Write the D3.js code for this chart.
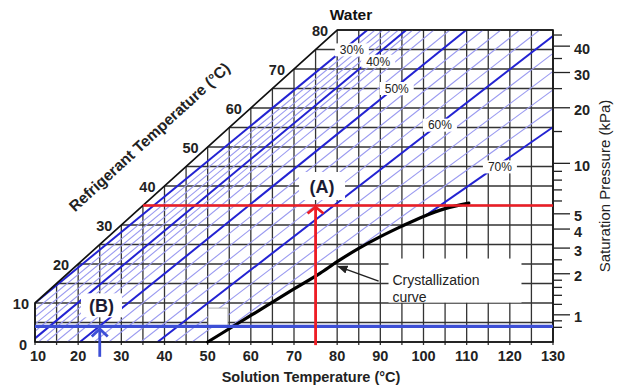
<!DOCTYPE html>
<html>
<head>
<meta charset="utf-8">
<script src="https://cdn.jsdelivr.net/npm/d3@7"></script>
<style>
  html, body { margin: 0; padding: 0; background: #fff; }
  svg { display: block; font-family: "Liberation Sans", Arial, sans-serif; }
</style>
</head>
<body>
<div id="chart"></div>
<script>
// axis ticks
const solTicks = [10, 20, 30, 40, 50, 60, 70, 80, 90, 100, 110, 120, 130];
const refTicks = [0, 10, 20, 30, 40, 50, 60, 70, 80];

// LiBr concentration lines (%), solution temp where each line meets refrigerant 0 °C and 80 °C
const concs       = [30, 32, 34, 36, 38, 40, 42, 44, 46, 48, 50, 52, 54, 56, 58, 60, 62, 64, 66, 68, 70];
const tsolAtRef0  = [-1, 1, 3, 5, 7, 9, 10.8, 12.6, 14.8, 17.5, 20.4, 23.7, 27.1, 30.8, 34.5, 38.4, 42.4, 46.4, 50.4, 54.4, 58.3];
const tsolAtRef80 = [87, 88.8, 90.6, 92.4, 94.2, 96, 97.5, 99.5, 102.4, 106.1, 109.9, 113.8, 117.9, 122.3, 126.9, 131.8, 137.1, 142.8, 148.9, 155.4, 162.4];

// concentration labels
const concLabels = ['30%', '40%', '50%', '60%', '70%'];
const labelTsol  = [83.4, 89.5, 93.8, 103.8, 117.7];
const labelTref  = [74.9, 72.0, 65.0, 55.6, 44.9];

// crystallization curve
const crystTsol = [50, 60, 70, 76, 80, 85, 90, 95, 100, 105, 110.5];
const crystTref = [0, 6.8, 13.6, 17.6, 20.6, 24.0, 27.0, 29.7, 32.2, 34.2, 35.6];

// saturation pressure axis (kPa) and matching water saturation temperature (°C)
const pressMajor     = [1, 2, 3, 4, 5, 10, 20, 30, 40];
const pressMajorTemp = [6.97, 17.5, 24.08, 28.96, 32.87, 45.81, 60.06, 69.1, 75.86];
const pressMinorTemp = [3.76, 5.43, 9.65, 11.97, 14.0, 15.84, 21.08, 36.16, 39.0, 41.51, 43.76, 53.97, 64.97, 72.69, 78.71];

// operating points: (A) generator side, (B) evaporator side
const pointA = { tsol: 75, tref: 35 };
const pointB = { tsol: 25, tref: 4 };

const W = 621, H = 385;
const svg = d3.select('#chart').append('svg').attr('width', W).attr('height', H);

const x = d3.scaleLinear().domain([10, 130]).range([35, 553]);
const y = d3.scaleLinear().domain([0, 80]).range([342, 30]);

const gridColor = '#333';
const blueThick = '#2323d2', blueThin = '#9a9af0';
const red = '#ee1d25', markBlue = '#3d4fd6';

// grid
const solGrid = d3.range(10, 131, 5);
const refGrid = d3.range(0, 81, 5);
const grid = svg.append('g').attr('stroke', gridColor).attr('stroke-width', 1.3);
grid.selectAll('line.v').data(solGrid).join('line').attr('class', 'v')
  .attr('x1', d => x(d)).attr('x2', d => x(d))
  .attr('y1', y(0) + 3).attr('y2', d => y(Math.min(80, Math.max(10, d))));
grid.selectAll('line.h').data(refGrid).join('line').attr('class', 'h')
  .attr('x1', d => x(Math.max(10, d))).attr('x2', x(130))
  .attr('y1', d => y(d)).attr('y2', d => y(d));

// clip region for the concentration lines: right of water line, above crystallization
const crystPts = crystTsol.map((t, i) => [t, crystTref[i]]);
const lastC = crystPts[crystPts.length - 1];
const region = [[10, 10], [80, 80], [130, 80], [130, lastC[1]], ...crystPts.slice().reverse(), [10, 0]];
svg.append('clipPath').attr('id', 'conc-clip').append('path')
  .attr('d', d3.line().x(d => x(d[0])).y(d => y(d[1]))(region) + 'Z');

const concG = svg.append('g').attr('clip-path', 'url(#conc-clip)').attr('fill', 'none');
const concData = concs.map((c, i) => ({ c, pts: [[tsolAtRef0[i], 0], [tsolAtRef80[i], 80]] }));
const lineGen = d3.line().x(d => x(d[0])).y(d => y(d[1]));
concG.selectAll('path.thin').data(concData.filter(d => d.c % 10 !== 0)).join('path')
  .attr('class', 'thin').attr('d', d => lineGen(d.pts))
  .attr('stroke', blueThin).attr('stroke-width', 1.1);
concG.selectAll('path.thick').data(concData.filter(d => d.c % 10 === 0)).join('path')
  .attr('class', 'thick').attr('d', d => lineGen(d.pts))
  .attr('stroke', blueThick).attr('stroke-width', 2);

// chart frame and water line
svg.append('path')
  .attr('d', lineGen([[10, 0], [130, 0], [130, 80], [80, 80], [10, 10]]) + 'Z')
  .attr('fill', 'none').attr('stroke', '#111').attr('stroke-width', 1.7);

// crystallization curve
svg.append('path')
  .attr('d', d3.line().x(d => x(d[0])).y(d => y(d[1])).curve(d3.curveMonotoneX)(crystPts))
  .attr('fill', 'none').attr('stroke', '#000').attr('stroke-width', 3.2).attr('stroke-linecap', 'round');

// small blank box on the chart
svg.append('rect')
  .attr('x', x(50.1)).attr('y', y(8.7)).attr('width', x(54.7) - x(50.1)).attr('height', y(3.9) - y(8.7))
  .attr('fill', '#fff').attr('stroke', '#999').attr('stroke-width', 0.8);

// concentration labels with white backing
const lab = svg.append('g').attr('font-size', 12).attr('fill', '#222');
concLabels.forEach((t, i) => {
  const cx = x(labelTsol[i]), cy = y(labelTref[i]);
  lab.append('rect').attr('x', cx - 17).attr('y', cy - 6.5).attr('width', 34).attr('height', 13).attr('fill', '#fff');
  lab.append('text').attr('x', cx).attr('y', cy + 4.3).attr('text-anchor', 'middle').text(t);
});

// crystallization label + arrow
svg.append('rect').attr('x', x(91.9)).attr('y', y(21.4)).attr('width', x(122.7) - x(91.9)).attr('height', y(10.1) - y(21.4)).attr('fill', '#fff');
const cl = svg.append('text').attr('font-size', 14).attr('fill', '#222');
cl.append('tspan').attr('x', x(92.8)).attr('y', y(15.9) + 5).text('Crystallization');
cl.append('tspan').attr('x', x(92.8)).attr('y', y(11.6) + 5).text('curve');
svg.append('defs').append('marker').attr('id', 'ah').attr('viewBox', '0 0 10 10')
  .attr('refX', 9).attr('refY', 5).attr('markerWidth', 7).attr('markerHeight', 7).attr('orient', 'auto')
  .append('path').attr('d', 'M0,1L10,5L0,9Z').attr('fill', '#222');
svg.append('line').attr('x1', x(89.6)).attr('y1', y(15.6)).attr('x2', x(80.2)).attr('y2', y(19.4))
  .attr('stroke', '#222').attr('stroke-width', 1.5).attr('marker-end', 'url(#ah)');

// operating lines
svg.append('line').attr('x1', x(10)).attr('x2', x(130)).attr('y1', y(pointB.tref)).attr('y2', y(pointB.tref))
  .attr('stroke', markBlue).attr('stroke-width', 3.2);
svg.append('line').attr('x1', x(pointA.tref)).attr('x2', x(130)).attr('y1', y(pointA.tref)).attr('y2', y(pointA.tref))
  .attr('stroke', red).attr('stroke-width', 2.6);
svg.append('line').attr('x1', x(pointA.tsol)).attr('x2', x(pointA.tsol)).attr('y1', y(-0.8)).attr('y2', y(pointA.tref))
  .attr('stroke', red).attr('stroke-width', 2.8);
svg.append('path')
  .attr('d', `M${x(pointA.tsol) - 8},${y(pointA.tref) + 8}L${x(pointA.tsol)},${y(pointA.tref) + 1.5}L${x(pointA.tsol) + 8},${y(pointA.tref) + 8}`)
  .attr('fill', 'none').attr('stroke', red).attr('stroke-width', 2.8);
svg.append('line').attr('x1', x(pointB.tsol)).attr('x2', x(pointB.tsol)).attr('y1', y(-3.8)).attr('y2', y(pointB.tref) + 3)
  .attr('stroke', markBlue).attr('stroke-width', 2.8);
svg.append('path')
  .attr('d', `M${x(pointB.tsol) - 8},${y(pointB.tref) + 10}L${x(pointB.tsol)},${y(pointB.tref) + 2.5}L${x(pointB.tsol) + 8},${y(pointB.tref) + 10}`)
  .attr('fill', 'none').attr('stroke', markBlue).attr('stroke-width', 2.8);

// (A) and (B) labels
[['(A)', 76.5, 40.0, 46, 28], ['(B)', 25.4, 9.4, 41, 24]].forEach(([t, ts, tr, w, h]) => {
  svg.append('rect').attr('x', x(ts) - w / 2).attr('y', y(tr) - h / 2).attr('width', w).attr('height', h).attr('fill', '#fff');
  svg.append('text').attr('x', x(ts)).attr('y', y(tr) + 6.5).attr('text-anchor', 'middle')
    .attr('font-size', 18).attr('font-weight', 'bold').attr('fill', '#1b1b33').text(t);
});

// bottom axis labels
svg.append('g').selectAll('text').data(solTicks).join('text')
  .attr('x', d => x(d) + (d === 10 ? 3 : 0)).attr('y', 360.5).attr('text-anchor', 'middle')
  .attr('font-size', 14.5).attr('font-weight', 'bold').attr('fill', '#222').text(d => d);

// refrigerant temperature labels along the water line
svg.append('g').selectAll('text').data(refTicks).join('text')
  .attr('x', d => x(Math.max(10, d)) - (d === 0 ? 8 : d === 10 ? 6 : 9))
  .attr('y', d => y(d) + 6 + (d === 0 ? 2 : 0)).attr('text-anchor', 'end')
  .attr('font-size', 14.5).attr('font-weight', 'bold').attr('fill', '#222').text(d => d);

// right pressure axis
const rg = svg.append('g').attr('stroke', '#222').attr('stroke-width', 1.3);
rg.selectAll('line.maj').data(pressMajorTemp).join('line').attr('class', 'maj')
  .attr('x1', x(130)).attr('x2', x(130) + 17).attr('y1', d => y(d)).attr('y2', d => y(d));
rg.selectAll('line.min').data(pressMinorTemp).join('line').attr('class', 'min')
  .attr('x1', x(130)).attr('x2', x(130) + 9).attr('y1', d => y(d)).attr('y2', d => y(d));
svg.append('g').selectAll('text').data(pressMajor).join('text')
  .attr('x', x(130) + 21).attr('y', (d, i) => y(pressMajorTemp[i]) + 7.5)
  .attr('font-size', 14.5).attr('font-weight', 'bold').attr('fill', '#222').text(d => d);

// titles
svg.append('text').attr('x', 311).attr('y', 382).attr('text-anchor', 'middle')
  .attr('font-size', 14.5).attr('font-weight', 'bold').attr('fill', '#222').text('Solution Temperature (°C)');
svg.append('text').attr('transform', 'translate(153,141) rotate(-42.5)').attr('text-anchor', 'middle')
  .attr('font-size', 15.5).attr('font-weight', 'bold').attr('fill', '#222').text('Refrigerant Temperature (°C)');
svg.append('text').attr('transform', 'translate(610,186) rotate(-90)').attr('text-anchor', 'middle')
  .attr('font-size', 15).attr('fill', '#222').text('Saturation Pressure (kPa)');
svg.append('text').attr('x', 351).attr('y', 20).attr('text-anchor', 'middle')
  .attr('font-size', 15.5).attr('font-weight', 'bold').attr('fill', '#111').text('Water');
</script>
</body>
</html>
